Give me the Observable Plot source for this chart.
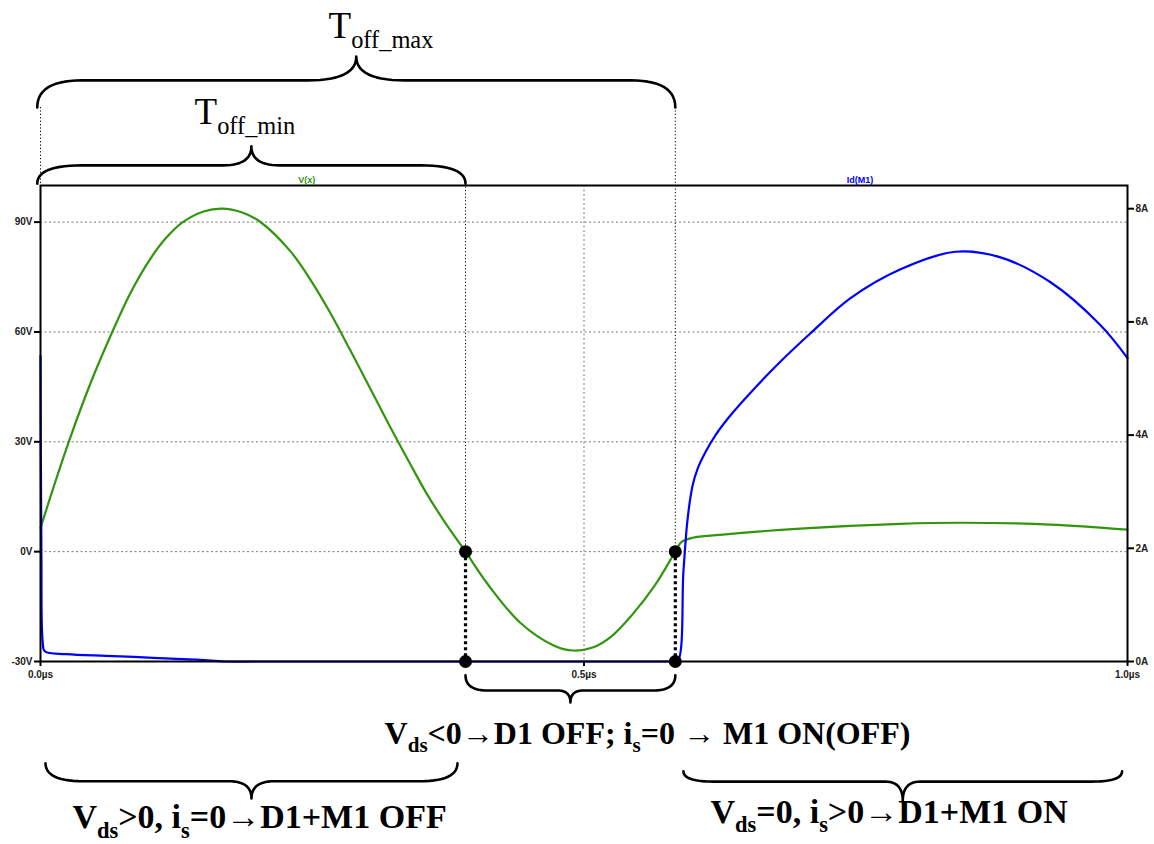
<!DOCTYPE html>
<html>
<head>
<meta charset="utf-8">
<script src="https://cdn.jsdelivr.net/npm/d3@7"></script>
<script src="https://cdn.jsdelivr.net/npm/@observablehq/plot@0.6"></script>
<style>
  html, body { margin: 0; padding: 0; background: #fff; }
</style>
</head>
<body>
<div id="chart"></div>
<script>
// ---------- data ----------
// V(x) trace: time (µs) and voltage (V)
const vTime = [0, 0.013, 0.026, 0.046, 0.066, 0.083, 0.10, 0.115, 0.13, 0.15, 0.167, 0.185, 0.202, 0.23, 0.25, 0.266, 0.285, 0.30, 0.32, 0.34, 0.355, 0.371, 0.391, 0.411, 0.4416, 0.472, 0.490, 0.508, 0.525, 0.545, 0.565, 0.584, 0.5895, 0.60, 0.625, 0.699, 0.791, 0.847, 0.929, 1.0];
const vValue = [6.5, 18.5, 30, 46, 60, 70.8, 79.5, 85.5, 89.8, 92.9, 93.7, 92.7, 90.1, 82, 73.5, 65.5, 55, 46.5, 35, 24, 16, 8.5, 0, -8.7, -19.5, -25.6, -27, -26.2, -23.2, -17, -9.3, 0, 2.6, 3.8, 4.6, 6.3, 7.6, 7.9, 7.4, 6.0];

// Id(M1) trace: time (µs) and current (A)
const iTime = [0, 0.0008, 0.002, 0.004, 0.024, 0.06, 0.086, 0.12, 0.147, 0.17, 0.2, 0.58, 0.586, 0.5915, 0.5952, 0.5998, 0.6044, 0.6118, 0.621, 0.6348, 0.6532, 0.6808, 0.7084, 0.7452, 0.7912, 0.8418, 0.8832, 0.9292, 0.9752, 1.0];
const iValue = [5.4, 2.0, 0.35, 0.18, 0.13, 0.10, 0.08, 0.05, 0.03, 0, 0, 0, 0, 1.6, 2.5, 3.1, 3.4, 3.7, 4.0, 4.35, 4.75, 5.3, 5.8, 6.42, 6.93, 7.24, 7.14, 6.7, 5.94, 5.36];

// axes
const voltTicks = [-30, 0, 30, 60, 90];
const gridVolts = [0, 30, 60, 90];
const ampTicks = [0, 2, 4, 6, 8];
const timeTicks = [0, 0.5, 1.0];
const timeGrid = [0.5];
const V_MIN = -30, V_MAX = 100, I_MAX = 8.41;

// trace titles
const traceNames = ["V(x)", "Id(M1)"];
const traceTitleTime = [0.245, 0.754];

// switching instants (zero crossings of V(x))
const switchTimes = [0.391, 0.584];
const dotLevels = [0, -30];

// thin dotted guides
const guideTime = [0, 0.584, 0.391];
const guideTop = [121.3, 121.3, 100.5];
const guideBottom = [100, 0, 0];

// braces
const braceStart = [-0.003, -0.003, 0.391, 0.0046, 0.5915];
const braceEnd = [0.584, 0.391, 0.584, 0.3836, 0.995];
const braceEndLevel = [121.3, 100.5, -33.8, -57.8, -60.0];
const braceBarLevel = [128.7, 105.5, -37.9, -62.7, -62.8];
const braceTipLevel = [135.2, 110.7, -41.2, -67.4, -68.1];
const braceEndCurl = [0.041, 0.041, 0.02, 0.035, 0.028];
const braceMidCurl = [0.045, 0.026, 0.012, 0.021, 0.016];

// annotation texts
const noteText = ["T_{off_max}", "T_{off_min}"];
const noteTime = [0.265, 0.1417];
const noteLevel = [140.4, 116.9];
const stateText = ["V_{ds}<0→D1 OFF; i_{s}=0 → M1 ON(OFF)", "V_{ds}>0, i_{s}=0→D1+M1 OFF", "V_{ds}=0, i_{s}>0→D1+M1 ON"];
const stateTime = [0.3165, 0.0294, 0.6164];
const stateLevel = [-52.4, -75.6, -74.0];
const stateSize = [32, 34, 34];

// ---------- helpers ----------
const toV = i => V_MIN + i * (V_MAX - V_MIN) / I_MAX;
const green = "#31960e";
const blue = "#0000ff";

const vData = vTime.map((t, k) => ({t, v: vValue[k]}));
const iData = iTime.map((t, k) => ({t, v: toV(iValue[k])}));

function quad(p0, p1, p2, n) {
  const out = [];
  for (let k = 0; k <= n; k++) {
    const s = k / n, a = (1 - s) * (1 - s), b = 2 * (1 - s) * s, c = s * s;
    out.push([a * p0[0] + b * p1[0] + c * p2[0], a * p0[1] + b * p1[1] + c * p2[1]]);
  }
  return out;
}
const braceData = [];
braceStart.forEach((x0, b) => {
  const x1 = braceEnd[b], xm = (x0 + x1) / 2;
  const ye = braceEndLevel[b], yb = braceBarLevel[b], yt = braceTipLevel[b];
  const ce = braceEndCurl[b], cm = braceMidCurl[b];
  const pts = [
    ...quad([x0, ye], [x0, yb], [x0 + ce, yb], 14),
    ...quad([xm - cm, yb], [xm, yb], [xm, yt], 14),
    ...quad([xm, yt], [xm, yb], [xm + cm, yb], 14),
    ...quad([x1 - ce, yb], [x1, yb], [x1, ye], 14)
  ];
  pts.forEach(p => braceData.push({id: b, x: p[0], y: p[1]}));
});

const dots = [];
switchTimes.forEach(t => dotLevels.forEach(v => dots.push({t, v})));

const notes = noteText.map((s, k) => ({s, t: noteTime[k], v: noteLevel[k]}));
const states = stateText.map((s, k) => ({s, t: stateTime[k], v: stateLevel[k], fs: stateSize[k]}));
const titles = traceNames.map((s, k) => ({s, t: traceTitleTime[k], c: k === 0 ? green : blue}));

const serif = "'Liberation Serif', 'Times New Roman', serif";

const chart = Plot.plot({
  width: 1154,
  height: 844,
  marginLeft: 40,
  marginRight: 27,
  marginTop: 185,
  marginBottom: 183,
  x: {domain: [0, 1]},
  y: {domain: [V_MIN, V_MAX]},
  style: {fontFamily: "'Liberation Sans', Arial, sans-serif", fontSize: "10px", background: "#fff", color: "#000", overflow: "visible"},
  marks: [
    Plot.ruleY(gridVolts, {stroke: "#7a7a7a", strokeDasharray: "2,2.5", strokeWidth: 1}),
    Plot.ruleX(timeGrid, {stroke: "#7a7a7a", strokeDasharray: "2,2.5", strokeWidth: 1}),
    Plot.ruleX(guideTime, {x: d => d, y1: (d, k) => guideTop[k], y2: (d, k) => guideBottom[k], stroke: "#000", strokeDasharray: "1.2,2.2", strokeWidth: 1}),
    Plot.ruleX(switchTimes, {x: d => d, y1: 0, y2: -30, stroke: "#000", strokeDasharray: "3,3", strokeWidth: 3.2}),
    Plot.line(vData, {x: "t", y: "v", stroke: green, strokeWidth: 2.2, curve: "catmull-rom"}),
    Plot.line(iData, {x: "t", y: "v", stroke: blue, strokeWidth: 2.2, curve: "catmull-rom"}),
    Plot.frame({stroke: "#000", strokeWidth: 2}),
    Plot.axisY(voltTicks, {anchor: "left", label: null, tickFormat: d => d + "V", tickSize: 6, tickPadding: 2, strokeWidth: 2, fontWeight: "bold", fill: "#222"}),
    Plot.axisY(ampTicks.map(toV), {anchor: "right", label: null, tickFormat: v => Math.round((v - V_MIN) * I_MAX / (V_MAX - V_MIN)) + "A", tickSize: 6, tickPadding: 2, strokeWidth: 2, fontWeight: "bold", fill: "#222"}),
    Plot.axisX(timeTicks, {anchor: "bottom", label: null, tickFormat: d => d.toFixed(1) + "µs", tickSize: 5, tickPadding: 4, strokeWidth: 2, fontWeight: "bold", fill: "#222"}),
    Plot.dot(dots, {x: "t", y: "v", r: 6.5, fill: "#000", stroke: "none"}),
    Plot.line(braceData, {x: "x", y: "y", z: "id", stroke: "#000", strokeWidth: 2.6, curve: "linear"}),
    Plot.text(titles, {x: "t", y: V_MAX, text: "s", fill: "c", dy: -3, lineAnchor: "bottom", fontSize: 9, fontWeight: "bold"}),
    Plot.text(notes, {x: "t", y: "v", text: "s", textAnchor: "start", lineAnchor: "bottom", fontFamily: serif, fontSize: 37, fill: "#000"}),
    Plot.text(states, {x: "t", y: "v", text: "s", textAnchor: "start", lineAnchor: "bottom", fontFamily: serif, fontSize: "fs", fontWeight: "bold", fill: "#000"})
  ]
});

// turn _{...} into subscripts
chart.querySelectorAll("text").forEach(el => {
  const s = el.textContent;
  if (!s.includes("_{")) return;
  const parts = s.split(/_\{([^}]*)\}/);
  while (el.firstChild) el.removeChild(el.firstChild);
  const NS = "http://www.w3.org/2000/svg";
  let lowered = false;
  parts.forEach((p, k) => {
    if (p === "") return;
    const ts = document.createElementNS(NS, "tspan");
    ts.textContent = p;
    if (k % 2 === 1) {
      ts.setAttribute("font-size", "0.66em");
      ts.setAttribute("dy", "0.42em");
      lowered = true;
    } else if (lowered) {
      ts.setAttribute("dy", (-0.42 * 0.66).toFixed(4) + "em");
      lowered = false;
    }
    el.appendChild(ts);
  });
});

document.getElementById("chart").appendChild(chart);
</script>
</body>
</html>
